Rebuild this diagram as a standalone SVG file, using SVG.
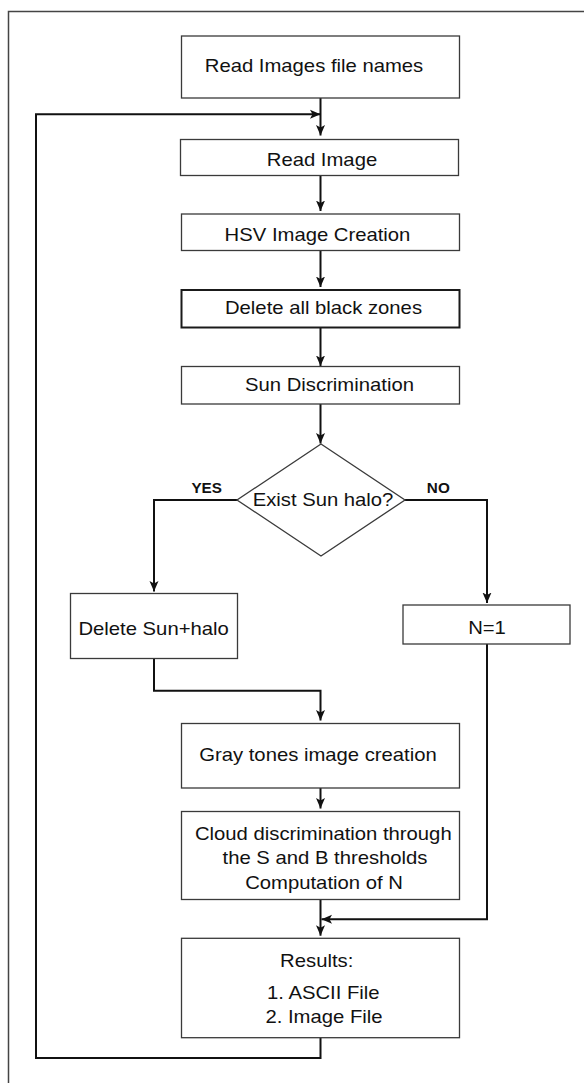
<svg xmlns="http://www.w3.org/2000/svg" width="584" height="1083" viewBox="0 0 584 1083">
<style>
.box{fill:#fff;stroke:#3a3a3a;stroke-width:1.3}
.thick{stroke:#1a1a1a;stroke-width:2}
.t{font-family:"Liberation Sans",Arial,sans-serif;font-size:18.6px;fill:#111;text-anchor:middle}
.lb{font-family:"Liberation Sans",Arial,sans-serif;font-size:14px;font-weight:bold;fill:#111;text-anchor:middle}
.c{fill:none;stroke:#111;stroke-width:2}
</style>
<defs>
<marker id="ah" viewBox="0 -5 11 10" refX="10.5" refY="0" markerWidth="11" markerHeight="10" markerUnits="userSpaceOnUse" orient="auto">
<path d="M0,-4.5 L10.5,0 L0,4.5 L2.5,0 Z" fill="#111"/>
</marker>
</defs>
<rect width="584" height="1083" fill="#fff"/>
<path d="M8.5,1083 V11.5 H584" fill="none" stroke="#444" stroke-width="1.5"/>

<g id="connectors">
<path class="c" d="M320.5,98 V135.5" marker-end="url(#ah)"/>
<path class="c" d="M320.5,1038 V1058 H36 V114.3 H320.5" marker-end="url(#ah)"/>
<path class="c" d="M320.5,175.5 V211" marker-end="url(#ah)"/>
<path class="c" d="M320.5,250.5 V287" marker-end="url(#ah)"/>
<path class="c" d="M320.5,327.5 V366" marker-end="url(#ah)"/>
<path class="c" d="M320.5,404 V443.5" marker-end="url(#ah)"/>
<path class="c" d="M237,500 H154 V591.5" marker-end="url(#ah)"/>
<path class="c" d="M405,500 H487 V603" marker-end="url(#ah)"/>
<path class="c" d="M154,658.5 V690.7 H320.5 V720.5" marker-end="url(#ah)"/>
<path class="c" d="M320.5,788 V808.5" marker-end="url(#ah)"/>
<path class="c" d="M320.5,899.5 V935.7" marker-end="url(#ah)"/>
<path class="c" d="M487,644 V919.3 H321.5" marker-end="url(#ah)"/>
</g>

<g id="read-names">
<rect class="box" x="181.5" y="36" width="278" height="62"/>
<text class="t" transform="translate(314,71.5) scale(1.09,1)">Read Images file names</text>
</g>
<g id="read-image">
<rect class="box" x="180.5" y="139.5" width="278" height="36"/>
<text class="t" transform="translate(322,165.7) scale(1.09,1)">Read Image</text>
</g>
<g id="hsv">
<rect class="box" x="181.5" y="214" width="278" height="36.5"/>
<text class="t" transform="translate(317.5,241) scale(1.09,1)">HSV Image Creation</text>
</g>
<g id="delete-black">
<rect class="box thick" x="181.5" y="290" width="278" height="37.5"/>
<text class="t" transform="translate(323.5,314.3) scale(1.09,1)">Delete all black zones</text>
</g>
<g id="sun-disc">
<rect class="box" x="181.5" y="366.5" width="278" height="37.5"/>
<text class="t" transform="translate(329.5,391) scale(1.09,1)">Sun Discrimination</text>
</g>
<g id="decision">
<polygon class="box" points="321,444 405,500 321,556 237,500"/>
<text class="t" transform="translate(323,506) scale(1.09,1)">Exist Sun halo?</text>
<text class="lb" transform="translate(206.7,493.3) scale(1.09,1)">YES</text>
<text class="lb" transform="translate(438.3,493.3) scale(1.09,1)">NO</text>
</g>
<g id="delete-sun">
<rect class="box" x="70.5" y="593.5" width="167" height="65"/>
<text class="t" transform="translate(153.6,634.5) scale(1.09,1)">Delete Sun+halo</text>
</g>
<g id="n1">
<rect class="box" x="403" y="605" width="167" height="39"/>
<text class="t" transform="translate(487,633.6) scale(1.09,1)">N=1</text>
</g>
<g id="gray">
<rect class="box" x="181.5" y="723.5" width="278" height="64.5"/>
<text class="t" transform="translate(318,760.5) scale(1.09,1)">Gray tones image creation</text>
</g>
<g id="cloud">
<rect class="box" x="181.5" y="811.5" width="278" height="88"/>
<text class="t" transform="translate(323.3,840) scale(1.09,1)">Cloud discrimination through</text>
<text class="t" transform="translate(325,864.3) scale(1.09,1)">the S and B thresholds</text>
<text class="t" transform="translate(324,889) scale(1.09,1)">Computation of N</text>
</g>
<g id="results">
<rect class="box" x="181.5" y="938.3" width="278" height="99.4"/>
<text class="t" transform="translate(316.7,966.7) scale(1.09,1)">Results:</text>
<text class="t" transform="translate(323.3,999) scale(1.09,1)">1. ASCII File</text>
<text class="t" transform="translate(324,1023.3) scale(1.09,1)">2. Image File</text>
</g>
</svg>
